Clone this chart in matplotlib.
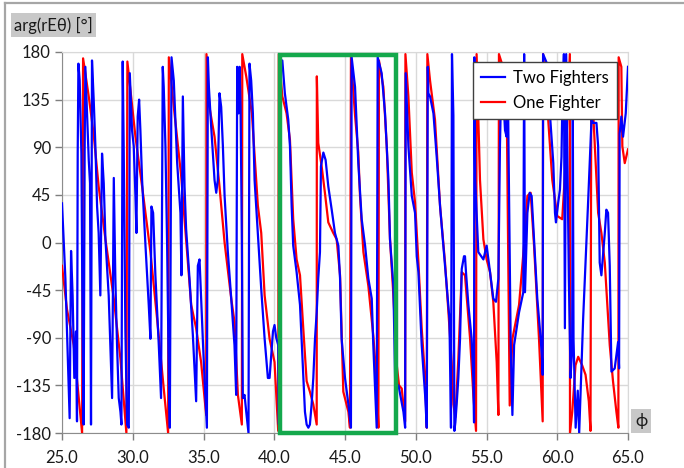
import matplotlib
matplotlib.use('Agg')
import matplotlib.pyplot as plt
from matplotlib.patches import Rectangle
from matplotlib.lines import Line2D


plt.rcParams['font.family'] = ['Lato', 'DejaVu Sans']
plt.rcParams['axes.unicode_minus'] = False


# phase of rE-theta vs phi
RED_PHI = [
    25.0, 25.35, 25.83, 26.42, 26.49, 26.89, 27.24, 27.59, 28.07, 28.66,
    29.13, 29.55, 29.62, 30.19, 30.66, 31.25, 31.72, 32.19, 32.5, 32.55,
    32.95, 33.42, 33.77, 34.13, 34.48, 34.83, 35.19, 35.21, 35.42, 35.78,
    36.13, 36.49, 36.96, 37.19, 37.43, 37.71, 37.74, 38.02, 38.42, 38.84,
    39.08, 39.32, 39.67, 40.02, 40.28, 40.32, 40.57, 40.87, 41.11, 41.34,
    41.58, 41.82, 42.05, 42.29, 42.52, 42.76, 43.0, 43.01, 43.11, 43.35,
    43.58, 43.82, 44.17, 44.41, 44.65, 44.88, 45.24, 45.35, 45.42, 45.71,
    45.94, 46.06, 46.3, 46.65, 47.0, 47.24, 47.36, 47.4, 47.71, 47.95,
    48.18, 48.42, 48.66, 48.82, 49.01, 49.25, 49.27, 49.48, 49.72, 49.95,
    50.19, 50.42, 50.66, 50.78, 50.82, 51.01, 51.36, 51.72, 52.07, 52.31,
    52.54, 52.66, 52.8, 53.01, 53.25, 53.48, 53.84, 54.07, 54.26, 54.3,
    54.54, 54.78, 55.01, 55.25, 55.48, 55.72, 55.84, 55.88, 56.3, 56.45,
    56.64, 56.83, 57.3, 57.65, 57.89, 58.12, 58.36, 58.71, 58.97, 59.0,
    59.3, 59.65, 60.0, 60.35, 60.59, 60.82, 60.89, 60.9, 61.06, 61.29,
    61.48, 61.76, 62.0, 62.23, 62.35, 62.4, 62.55, 62.89, 63.12, 63.36,
    63.71, 63.94, 64.18, 64.32, 64.34, 64.53, 64.6, 64.77, 65.0,
]
RED_DEG = [
    -22, -63, -97, -180, 174, 138, 102, 53, 3, -53,
    -110, -180, 171, 100, 53, -9, -72, -138, -180, 175,
    122, 63, 3, -59, -81, -113, -163, 178, 128, 100,
    53, 0, -53, -75, -144, -172, 178, 157, 122, 35,
    9, -50, -91, -113, -178, 178, 138, 122, 97, 22,
    -16, -31, -81, -131, -141, -153, -172, 157, 94, 72,
    47, 19, 9, 3, -31, -141, -160, -175, 175, 120,
    85, 44, -9, -41, -88, -131, -175, 172, 147, 91,
    3, -50, -116, -135, -138, -169, 178, 138, 66, 38,
    -19, -81, -128, -175, 178, 153, 116, 34, -19, -66,
    -113, -153, -165, -110, -28, -31, -91, -144, -178, 178,
    59, 3, -16, -28, -56, -113, -163, 178, 160, 100,
    -154, -91, -59, -3, 44, 47, -3, -91, -169, 178,
    128, 59, 25, 22, 75, 153, 178, -180, -160, -116,
    -108, -116, -125, -150, -178, 122, 120, 28, 9, -19,
    -97, -131, -160, -175, 175, 166, 91, 75, 88,
]

BLUE_PHI = [
    25.0, 25.24, 25.54, 25.64, 25.75, 25.87, 25.99, 26.06, 26.11, 26.16,
    26.25, 26.37, 26.46, 26.53, 26.6, 26.65, 26.77, 26.89, 26.98, 27.05,
    27.12, 27.24, 27.36, 27.48, 27.59, 27.71, 27.83, 27.95, 28.07, 28.3,
    28.42, 28.54, 28.66, 28.77, 28.89, 29.01, 29.13, 29.2, 29.29, 29.36,
    29.48, 29.6, 29.72, 29.79, 29.95, 30.07, 30.19, 30.26, 30.35, 30.45,
    30.54, 30.66, 30.9, 31.13, 31.25, 31.32, 31.44, 31.6, 31.84, 32.0,
    32.12, 32.19, 32.31, 32.43, 32.55, 32.62, 32.74, 32.9, 33.14, 33.37,
    33.44, 33.54, 33.66, 33.77, 34.01, 34.25, 34.48, 34.6, 34.72, 34.83,
    34.95, 35.07, 35.24, 35.31, 35.38, 35.54, 35.78, 35.9, 36.01, 36.13,
    36.25, 36.37, 36.49, 36.72, 36.96, 37.19, 37.31, 37.38, 37.48, 37.55,
    37.62, 37.71, 37.78, 37.9, 38.02, 38.18, 38.25, 38.37, 38.49, 38.61,
    38.84, 39.08, 39.32, 39.55, 39.67, 39.91, 40.02, 40.14, 40.28, 40.33,
    40.4, 40.57, 40.75, 40.99, 41.11, 41.23, 41.34, 41.58, 41.82, 41.93,
    42.17, 42.29, 42.41, 42.52, 42.64, 42.76, 42.88, 43.0, 43.11, 43.23,
    43.3, 43.47, 43.63, 43.82, 44.06, 44.29, 44.53, 44.65, 44.76, 45.0,
    45.24, 45.42, 45.47, 45.71, 45.94, 46.18, 46.42, 46.65, 46.89, 47.0,
    47.24, 47.31, 47.59, 47.83, 48.07, 48.18, 48.42, 48.54, 48.66, 48.78,
    49.13, 49.25, 49.29, 49.48, 49.72, 49.95, 50.07, 50.19, 50.42, 50.66,
    50.78, 50.85, 50.89, 51.01, 51.25, 51.48, 51.72, 51.95, 52.19, 52.38,
    52.49, 52.56, 52.66, 52.73, 52.8, 52.89, 53.01, 53.13, 53.25, 53.41,
    53.48, 53.55, 53.72, 53.95, 54.07, 54.12, 54.14, 54.2, 54.42, 54.78,
    55.01, 55.25, 55.48, 55.67, 55.84, 55.95, 56.07, 56.31, 56.42, 56.5,
    56.55, 56.71, 56.83, 56.95, 57.3, 57.6, 57.66, 57.72, 57.89, 58.05,
    58.19, 58.36, 58.59, 58.83, 58.94, 58.97, 59.0, 59.37, 59.48, 59.72,
    59.84, 59.91, 60.07, 60.19, 60.3, 60.35, 60.47, 60.54, 60.63, 60.82,
    60.94, 61.05, 61.1, 61.15, 61.3, 61.45, 61.55, 61.83, 62.18, 62.42,
    62.54, 62.77, 62.89, 63.0, 63.12, 63.36, 63.47, 63.59, 63.71, 63.83,
    64.06, 64.3, 64.37, 64.41, 64.53, 64.65, 64.84, 65.0,
]
BLUE_DEG = [
    37, -34, -166, -8, -50, -128, -84, -169, 85, 169,
    153, 84, -91, -172, 85, 166, 122, 78, 56, -172,
    172, 135, 91, 34, 9, -50, 84, 56, 3, -50,
    -100, -147, 61, -34, -97, -147, -160, -172, 171, 91,
    -84, -172, -175, 160, 106, 91, 44, 9, 119, 135,
    106, 59, -3, -59, -91, 34, 28, -31, -97, -147,
    166, 147, 91, -3, -128, -175, 175, 153, 75, 28,
    -31, 138, 53, 13, -34, -88, -150, -22, -16, -53,
    -91, -128, -175, 175, 147, 110, 59, 47, 59, 141,
    128, 91, 44, -9, -53, -97, -144, 166, 122, 166,
    128, 3, -147, -144, -160, -180, 169, 153, 122, 59,
    9, -44, -91, -128, -128, -84, -78, -90, -97, -172,
    172, 172, 141, 116, 91, 34, -3, -28, -59, -91,
    -160, -172, -175, -172, -153, -128, -91, -66, -34, -9,
    72, 85, 78, 53, 31, 9, -3, -34, -91, -128,
    -153, -175, 175, 147, 75, 22, -3, -34, -53, -97,
    -175, 175, 160, 122, 59, 3, -41, -128, -135, -135,
    -160, -175, 160, 91, 44, 28, -13, -28, -97, -144,
    -175, 166, 141, 138, 122, 81, 34, -3, -41, -72,
    -175, 178, 120, -178, -170, -153, -128, -91, -25, -13,
    -13, -28, -59, -91, -128, -170, 175, 59, -9, -16,
    -3, -28, -53, -56, -34, 91, 166, 106, 100, 166,
    97, -97, -163, -97, -66, -47, 178, -47, 28, 47,
    44, 3, -53, -91, -113, -125, 178, 166, 122, 75,
    28, 19, 38, 50, 81, 122, 178, -81, 178, -34,
    -128, -100, 120, -91, -175, -140, -180, -72, 38, 116,
    113, 113, 91, -19, -31, 9, 31, 28, -22, -122,
    -119, -94, -119, 103, 119, 100, 122, 166,
]

SERIES_LABELS = ['Two Fighters', 'One Fighter']
X_TICKS = [25, 30, 35, 40, 45, 50, 55, 60, 65]
Y_TICKS = [-180, -135, -90, -45, 0, 45, 90, 135, 180]

# highlighted window (phi range, phase range)
BOX_PHI = (40.4, 48.6)
BOX_DEG = (-180, 177)


W, H = 684, 468
fig = plt.figure(figsize=(W / 100, H / 100), dpi=100)
ax = fig.add_axes([62 / W, 1 - 433 / H, (628 - 62) / W, (433 - 52) / H])

ax.plot(RED_PHI, RED_DEG, color='#ff0000', lw=1.6, label=SERIES_LABELS[1], zorder=3)
ax.plot(BLUE_PHI, BLUE_DEG, color='#0000ff', lw=1.6, label=SERIES_LABELS[0], zorder=4)

ax.add_patch(Rectangle((BOX_PHI[0], BOX_DEG[0]), BOX_PHI[1] - BOX_PHI[0],
                       BOX_DEG[1] - BOX_DEG[0], fill=False,
                       edgecolor='#14a84c', lw=3.2, zorder=6, clip_on=False))

ax.set_xlim(25, 65)
ax.set_ylim(-180, 180)
ax.set_xticks(X_TICKS)
ax.set_xticklabels([f'{v:.1f}' for v in X_TICKS])
ax.set_yticks(Y_TICKS)
ax.set_yticklabels([str(v) for v in Y_TICKS])
ax.tick_params(axis='both', labelsize=12, colors='#7f7f7f', labelcolor='#1a1a1a',
               length=5, width=1)
ax.tick_params(axis='x', pad=7)
ax.tick_params(axis='y', pad=3)

ax.grid(True, color='#d9d9d9', lw=1)
ax.set_axisbelow(True)
for side in ['left', 'bottom']:
    ax.spines[side].set_color('#8c8c8c')
for side in ['top', 'right']:
    ax.spines[side].set_color('#d9d9d9')

handles, labels = ax.get_legend_handles_labels()
leg = ax.legend(handles[::-1], labels[::-1], loc='upper right',
                bbox_to_anchor=(0.981, 0.974), borderaxespad=0,
                fancybox=False, framealpha=1, edgecolor='#404040',
                fontsize=12, handlelength=1.4, handletextpad=0.5,
                borderpad=0.5, labelspacing=0.5)
leg.get_frame().set_linewidth(1)
leg.set_zorder(10)

# window frame lines
fig.add_artist(Line2D([5 / W, 5 / W], [0, 1 - 3 / H], color='#a6a6a6', lw=1.6))
fig.add_artist(Line2D([5 / W, 1], [1 - 3 / H, 1 - 3 / H], color='#a6a6a6', lw=1.6))

fig.text(14 / W, 1 - 25 / H, 'arg(rEθ) [°]', fontsize=12, va='center', ha='left',
         color='#1a1a1a',
         bbox=dict(boxstyle='square,pad=0.2', facecolor='#c8c8c8', edgecolor='none'))
fig.text(641 / W, 1 - 421 / H, 'ϕ', fontsize=12, va='center', ha='center',
         color='#1a1a1a',
         bbox=dict(boxstyle='square,pad=0.25', facecolor='#c8c8c8', edgecolor='none'))

fig.savefig('out.png', dpi=100)
